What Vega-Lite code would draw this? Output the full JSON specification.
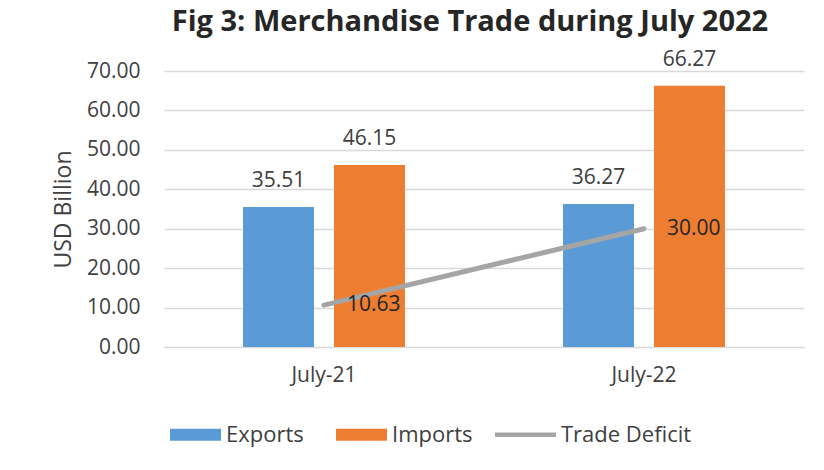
{
  "$schema": "https://vega.github.io/schema/vega-lite/v6.json",
  "width": 640,
  "height": 276,
  "autosize": {"type": "none"},
  "padding": {"left": 164, "top": 71, "right": 20, "bottom": 123},
  "background": "white",
  "title": {
    "text": "Fig 3: Merchandise Trade during July 2022",
    "font": "Open Sans",
    "fontSize": 29,
    "fontWeight": "bold",
    "color": "#262626",
    "anchor": "middle",
    "frame": "group",
    "dx": -14,
    "offset": 12
  },
  "data": {
    "values": [
      {"month": "July-21", "series": "Exports", "value": 35.51},
      {"month": "July-21", "series": "Imports", "value": 46.15},
      {"month": "July-22", "series": "Exports", "value": 36.27},
      {"month": "July-22", "series": "Imports", "value": 66.27},
      {"month": "July-21", "series": "Trade Deficit", "value": 10.63},
      {"month": "July-22", "series": "Trade Deficit", "value": 30.0}
    ]
  },
  "config": {
    "view": {"stroke": null},
    "font": "Open Sans",
    "axis": {
      "labelFont": "Open Sans",
      "labelColor": "#404040",
      "labelFontSize": 21,
      "titleFont": "Open Sans",
      "titleColor": "#404040",
      "titleFontWeight": "normal"
    }
  },
  "encoding": {
    "x": {
      "field": "month",
      "type": "nominal",
      "scale": {"paddingInner": 0.494, "paddingOuter": 0.247},
      "axis": {
        "title": null,
        "labelAngle": 0,
        "ticks": false,
        "domain": true,
        "domainColor": "#d9d9d9",
        "labelPadding": 17
      }
    },
    "y": {
      "field": "value",
      "type": "quantitative",
      "scale": {"domain": [0, 70]},
      "axis": {
        "values": [0, 10, 20, 30, 40, 50, 60, 70],
        "format": ".2f",
        "title": "USD Billion",
        "titleFontSize": 23,
        "titleX": -101,
        "titleY": 138,
        "titleAlign": "center",
        "titleBaseline": "middle",
        "titleAngle": -90,
        "grid": true,
        "gridColor": "#d9d9d9",
        "gridWidth": 1.5,
        "domain": false,
        "ticks": false,
        "labelPadding": 24
      }
    }
  },
  "layer": [
    {
      "transform": [{"filter": "datum.series !== 'Trade Deficit'"}],
      "mark": {"type": "bar"},
      "encoding": {
        "xOffset": {
          "field": "series",
          "type": "nominal",
          "scale": {"paddingInner": 0.22, "paddingOuter": 0}
        },
        "color": {
          "field": "series",
          "type": "nominal",
          "scale": {
            "domain": ["Exports", "Imports", "Trade Deficit"],
            "range": ["#5B9BD5", "#ED7D31", "#A5A5A5"]
          },
          "legend": {
            "title": null,
            "orient": "none",
            "direction": "horizontal",
            "legendX": -4,
            "legendY": 333,
            "symbolSize": 3721,
            "labelFontSize": 22,
            "labelFont": "Open Sans",
            "labelColor": "#404040",
            "labelOffset": 5,
            "columnPadding": 22,
            "encode": {
              "symbols": {
                "update": {
                  "shape": {"signal": "datum.value === 'Trade Deficit' ? 'M-1,-0.075H1V0.075H-1Z' : 'M-0.672,-0.197H1V0.197H-0.672Z'"},
                  "fill": {"signal": "scale('color', datum.value)"},
                  "stroke": {"value": "transparent"},
                  "strokeWidth": {"value": 0},
                  "opacity": {"value": 1}
                }
              }
            }
          }
        }
      }
    },
    {
      "transform": [{"filter": "datum.series !== 'Trade Deficit'"}],
      "mark": {
        "type": "text",
        "baseline": "bottom",
        "dy": -16,
        "fontSize": 21,
        "font": "Open Sans",
        "color": "#404040"
      },
      "encoding": {
        "xOffset": {
          "field": "series",
          "type": "nominal",
          "scale": {"paddingInner": 0.22, "paddingOuter": 0}
        },
        "text": {"field": "value", "type": "quantitative", "format": ".2f"}
      }
    },
    {
      "transform": [{"filter": "datum.series === 'Trade Deficit'"}],
      "mark": {"type": "line", "strokeWidth": 5, "strokeCap": "round"},
      "encoding": {
        "color": {"field": "series", "type": "nominal"}
      }
    },
    {
      "transform": [{"filter": "datum.series === 'Trade Deficit'"}],
      "mark": {
        "type": "text",
        "align": "left",
        "baseline": "middle",
        "dx": 23,
        "fontSize": 21,
        "font": "Open Sans",
        "color": "#262626"
      },
      "encoding": {
        "text": {"field": "value", "type": "quantitative", "format": ".2f"}
      }
    }
  ]
}
